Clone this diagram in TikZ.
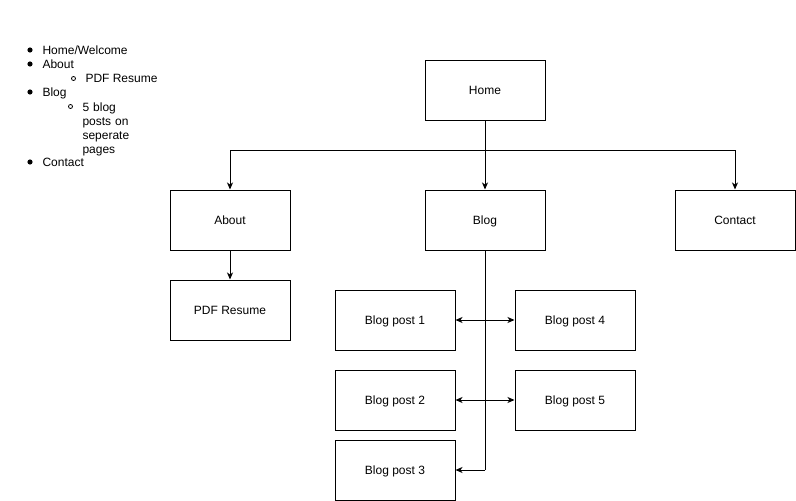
\documentclass[tikz,border=0pt]{standalone}
\usepackage{fontspec}
\setmainfont{Liberation Sans}
\usetikzlibrary{arrows.meta}

\tikzset{
  box/.style={draw=black, fill=white, minimum width=120pt, minimum height=60pt, inner sep=0pt,
    text height=9.6pt, text depth=0.4pt},
  item/.style={anchor=base west, inner sep=0pt},
  link/.style={-{Stealth[length=7pt,width=6pt,inset=2pt]}},
  both/.style={{Stealth[length=7pt,width=6pt,inset=2pt]}-{Stealth[length=7pt,width=6pt,inset=2pt]}}
}

\begin{document}
\begin{tikzpicture}[x=1pt, y=-1pt, line width=1pt, font=\fontsize{12}{14}\selectfont]
\useasboundingbox (0,0) rectangle (796,501);
%% bullet list
\node[item] (li1) at (42,54.5) {Home/Welcome};
\node[item] (li2) at (42,68.5) {About};
\node[item] (li3) at (85,82.5) {PDF Resume};
\node[item] (li4) at (42,96.5) {Blog};
\node[item, align=left, text width=60pt, anchor=north west] (li5) at (82,102) {5 blog\\ posts on\\ seperate\\ pages};
\node[item] (li6) at (42,166.5) {Contact};
\foreach \y in {50,64,92,162} \fill (30,\y) circle (2.6pt);
\draw[line width=0.8pt] (73.5,78.5) circle (2pt);
\draw[line width=0.8pt] (70.5,106.5) circle (2pt);
%% top level
\node[box] (home) at (485,90) {Home};
\node[box] (about) at (230,220) {About};
\node[box] (blog) at (485,220) {Blog};
\node[box] (contact) at (735,220) {Contact};
%% second level
\node[box] (pdf) at (230,310) {PDF Resume};
\node[box] (post1) at (395,320) {Blog post 1};
\node[box] (post2) at (395,400) {Blog post 2};
\node[box] (post3) at (395,470) {Blog post 3};
\node[box] (post4) at (575,320) {Blog post 4};
\node[box] (post5) at (575,400) {Blog post 5};
%% connectors
\coordinate (split) at (485,150);
\coordinate (trunk) at (485,470);
\draw (home.south) -- (split);
\draw[link] (split) -| (about.north);
\draw[link] (split) -| (contact.north);
\draw[link] (split) -- (blog.north);
\draw[link] (about.south) -- (pdf.north);
\draw (blog.south) -- (trunk);
\draw[link] (trunk) -- (post3.east);
\draw[both] (post1.east) -- (post4.west);
\draw[both] (post2.east) -- (post5.west);
\end{tikzpicture}
\end{document}
